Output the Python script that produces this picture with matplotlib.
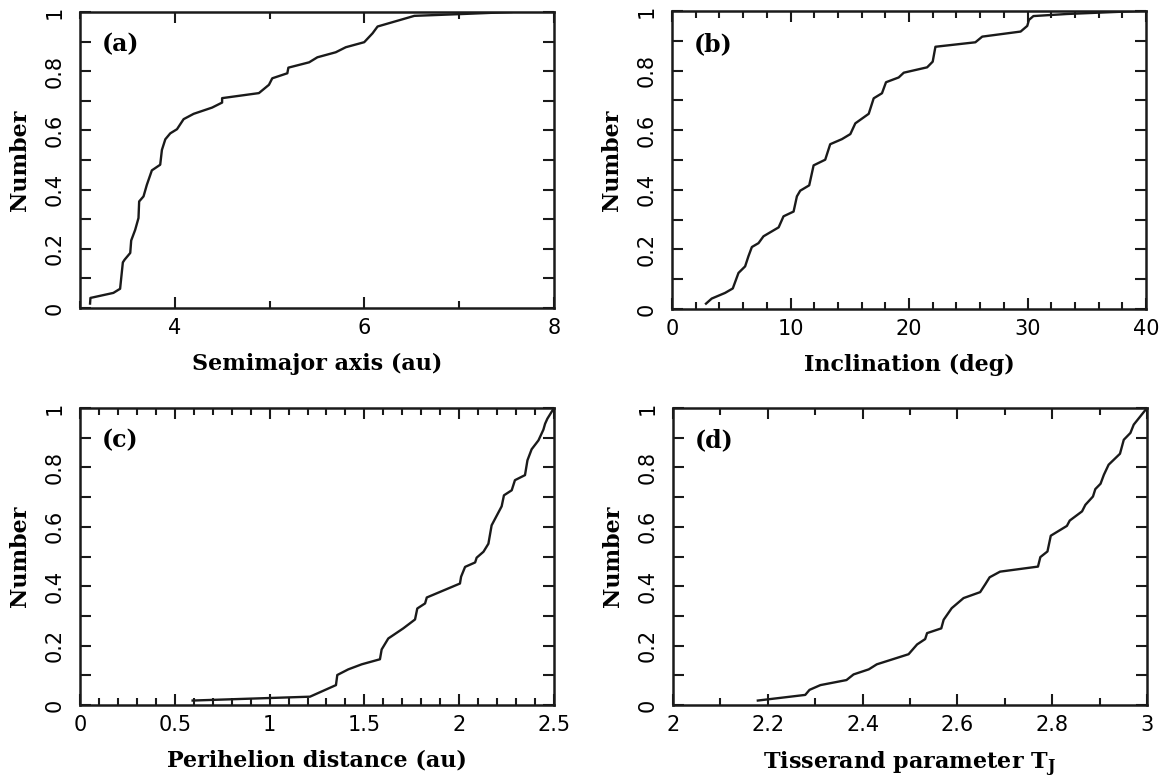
import numpy as np
import matplotlib
matplotlib.use("Agg")
import matplotlib.pyplot as plt
from matplotlib.ticker import MultipleLocator

# cumulative distributions
a_x = [3.106, 3.11, 3.352, 3.423, 3.452, 3.47, 3.53, 3.54, 3.582, 3.617, 3.624, 3.67, 3.705,
       3.758, 3.846, 3.864, 3.9, 3.952, 4.023, 4.093, 4.199, 4.393, 4.499, 4.499, 4.887, 4.993,
       5.028, 5.187, 5.198, 5.417, 5.504, 5.698, 5.804, 5.998, 6.086, 6.139, 6.527, 7.02, 7.55]
a_y = [0.015, 0.034, 0.051, 0.065, 0.154, 0.163, 0.186, 0.228, 0.264, 0.304, 0.36, 0.377, 0.416,
       0.465, 0.484, 0.534, 0.57, 0.59, 0.604, 0.638, 0.656, 0.677, 0.694, 0.709, 0.726, 0.754,
       0.776, 0.793, 0.812, 0.83, 0.847, 0.864, 0.881, 0.898, 0.928, 0.951, 0.987, 0.993, 1.0]

i_x = [2.87, 3.35, 4.48, 5.13, 5.61, 6.17, 6.45, 6.74, 7.3, 7.72, 9.0, 9.41, 10.26, 10.54,
       10.82, 11.58, 11.95, 12.93, 13.35, 14.34, 15.05, 15.47, 16.6, 17.02, 17.72, 18.06,
       19.13, 19.56, 21.53, 22.0, 22.23, 25.6, 26.18, 29.42, 29.98, 30.12, 30.5, 33.35, 39.4]
i_y = [0.018, 0.035, 0.054, 0.069, 0.121, 0.143, 0.177, 0.208, 0.221, 0.244, 0.274, 0.311,
       0.327, 0.378, 0.397, 0.415, 0.482, 0.501, 0.553, 0.57, 0.587, 0.623, 0.655, 0.707,
       0.724, 0.761, 0.777, 0.793, 0.811, 0.83, 0.88, 0.895, 0.914, 0.931, 0.95, 0.97, 0.983,
       0.99, 1.0]

q_x = [0.594, 1.213, 1.35, 1.357, 1.415, 1.486, 1.582, 1.591, 1.626, 1.705, 1.767, 1.779,
       1.82, 1.829, 2.004, 2.01, 2.031, 2.084, 2.092, 2.128, 2.154, 2.171, 2.224, 2.236,
       2.277, 2.294, 2.347, 2.36, 2.382, 2.418, 2.444, 2.453, 2.465, 2.5]
q_y = [0.015, 0.028, 0.067, 0.101, 0.12, 0.137, 0.154, 0.187, 0.224, 0.258, 0.288, 0.325,
       0.342, 0.362, 0.409, 0.432, 0.465, 0.48, 0.496, 0.516, 0.543, 0.605, 0.669, 0.706,
       0.723, 0.757, 0.774, 0.824, 0.861, 0.891, 0.927, 0.947, 0.964, 1.0]

t_x = [2.179, 2.279, 2.288, 2.311, 2.366, 2.381, 2.413, 2.43, 2.497, 2.515, 2.532, 2.536,
       2.566, 2.571, 2.588, 2.613, 2.648, 2.659, 2.668, 2.69, 2.77, 2.775, 2.79, 2.797,
       2.831, 2.837, 2.863, 2.87, 2.886, 2.891, 2.902, 2.909, 2.919, 2.943, 2.951, 2.965,
       2.972, 2.983, 3.0]
t_y = [0.015, 0.034, 0.051, 0.067, 0.084, 0.103, 0.12, 0.137, 0.171, 0.204, 0.222, 0.242,
       0.258, 0.287, 0.326, 0.36, 0.38, 0.407, 0.43, 0.449, 0.466, 0.498, 0.517, 0.57,
       0.603, 0.621, 0.652, 0.674, 0.702, 0.727, 0.745, 0.775, 0.809, 0.846, 0.893, 0.916,
       0.944, 0.966, 1.0]

plt.rcParams['mathtext.fontset'] = 'dejavuserif'

fig = plt.figure(figsize=(11.66, 7.81), dpi=100)

W, H = 1166, 781
boxes = [(80, 12, 554, 308), (672, 11, 1146, 309), (80, 408, 554, 705), (673, 408, 1147, 705)]

panels = [
    (a_x, a_y, (3, 8), 2, 1, [4, 6, 8], 'Semimajor axis (au)', '(a)'),
    (i_x, i_y, (0, 40), 10, 2, [0, 10, 20, 30, 40], 'Inclination (deg)', '(b)'),
    (q_x, q_y, (0, 2.5), 0.5, 0.1, [0, 0.5, 1, 1.5, 2, 2.5], 'Perihelion distance (au)', '(c)'),
    (t_x, t_y, (2, 3), 0.2, 0.1, [2, 2.2, 2.4, 2.6, 2.8, 3], r'Tisserand parameter T$_\mathbf{J}$', '(d)'),
]

for (l, t, r, b), (xs, ys, xlim, major, minor, ticks, xlabel, tag) in zip(boxes, panels):
    ax = fig.add_axes([l / W, 1 - b / H, (r - l) / W, (b - t) / H])
    ax.plot(xs, ys, color='#1a1a1a', lw=1.7)
    ax.set_xlim(*xlim)
    ax.set_ylim(0, 1)
    ax.set_xticks(ticks)
    ax.set_xticklabels([f'{v:g}' for v in ticks])
    ax.xaxis.set_minor_locator(MultipleLocator(minor))
    ax.set_yticks([0, 0.2, 0.4, 0.6, 0.8, 1.0])
    ax.set_yticklabels(['0', '0.2', '0.4', '0.6', '0.8', '1'])
    ax.yaxis.set_minor_locator(MultipleLocator(0.1))
    ax.tick_params(which='both', direction='in', top=True, right=True, width=1.5, color='#1a1a1a')
    ax.tick_params(which='major', length=8, labelsize=15, pad=7)
    ax.tick_params(axis='y', which='major', pad=11)
    ax.tick_params(axis='x', which='minor', length=5)
    ax.tick_params(axis='y', which='minor', length=8)
    ax.tick_params(axis='y', labelrotation=90)
    for lab in ax.get_yticklabels():
        lab.set_va('center')
    for s in ax.spines.values():
        s.set_linewidth(1.8)
        s.set_color('#1a1a1a')
    ax.set_xlabel(xlabel, fontsize=16, family='DejaVu Serif', weight='bold', labelpad=11)
    ax.set_ylabel('Number', fontsize=16, family='DejaVu Serif', weight='bold', labelpad=10)
    ax.text(0.045, 0.89, tag, transform=ax.transAxes, fontsize=17, family='DejaVu Serif',
            weight='bold', va='center')

fig.savefig('out.png', dpi=100)
